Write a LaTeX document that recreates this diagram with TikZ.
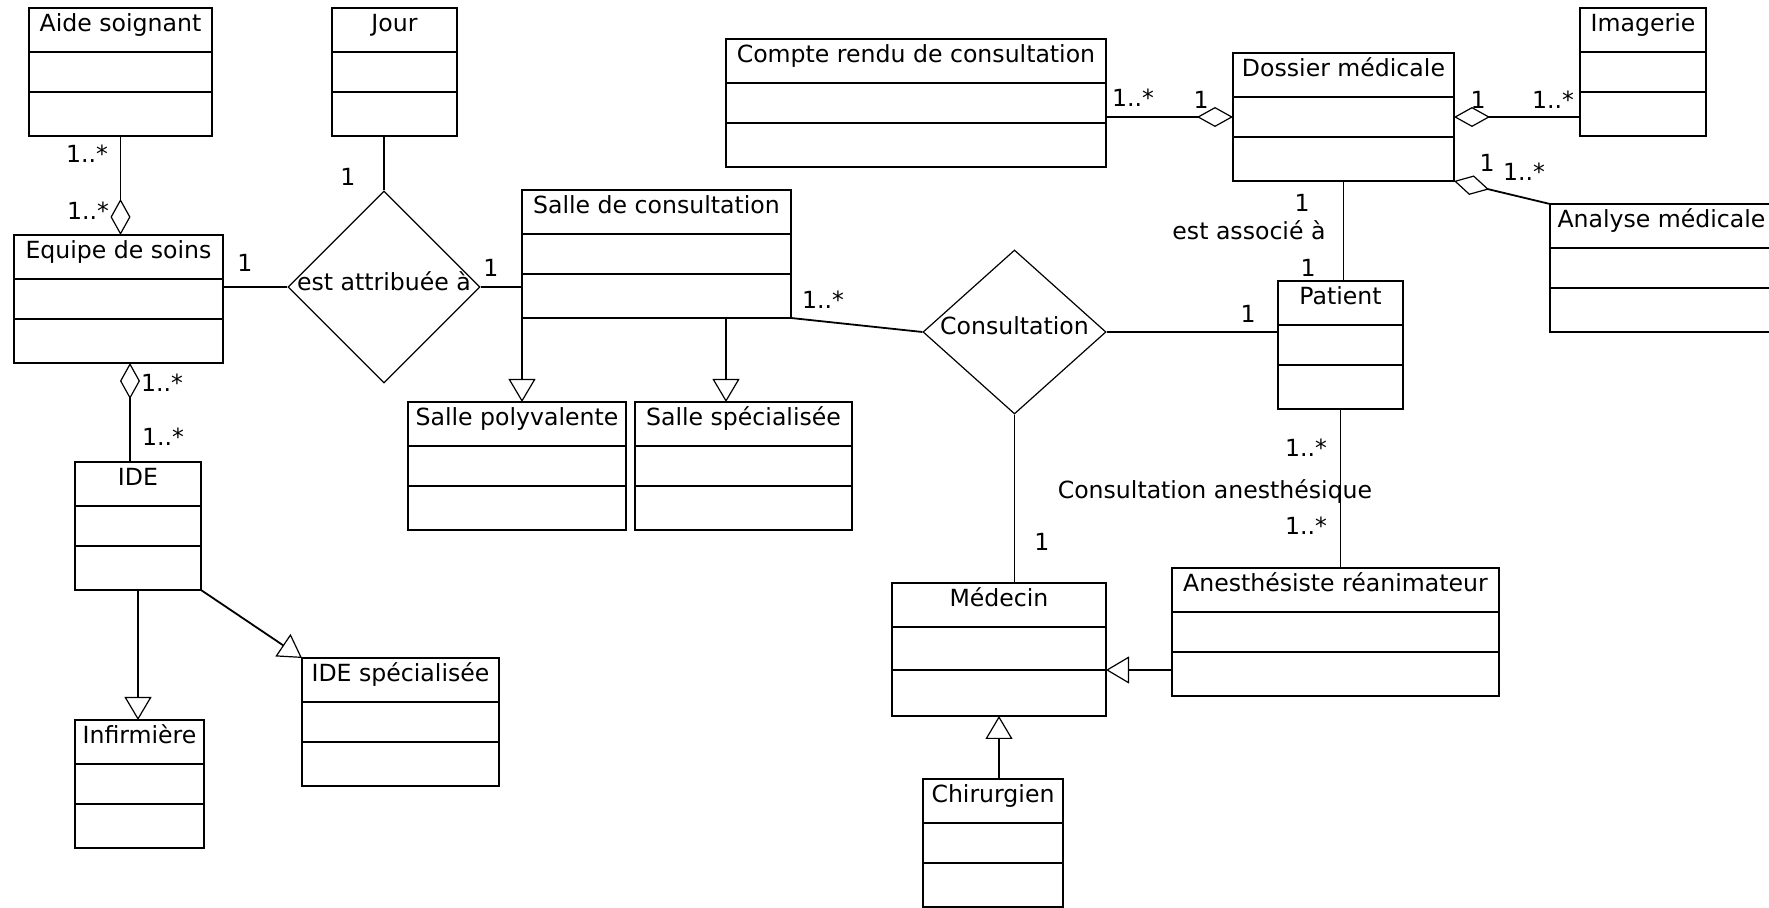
\documentclass[tikz,border=0pt]{standalone}
\usepackage{fontspec}
\setmainfont{DejaVu Sans}
\usetikzlibrary{positioning,shapes.geometric,arrows.meta}

\begin{document}
\begin{tikzpicture}[x=0.5pt, y=-0.5pt,
                    font=\fontsize{11.8pt}{14pt}\selectfont,
                    classname/.style={rectangle, draw=black, line width=1pt, minimum width=#1, minimum height=22pt, inner sep=0pt, outer sep=0pt, text height=12pt, text depth=10pt, anchor=north west},
                    compart/.style={rectangle, draw=black, line width=1pt, minimum width=#1, minimum height=20pt, inner sep=0pt, outer sep=0pt},
                    compartop/.style={compart=#1, minimum height=22pt},
                    relation/.style={diamond, draw=black, line width=0.6pt, inner sep=0pt},
                    link/.style={draw=black, line width=0.9pt},
                    aggreg/.style={link, {Diamond[open, length=18pt, width=10pt, line width=0.6pt]}-},
                    inherit/.style={link, {Triangle[open, length=11.5pt, width=13.5pt, line width=0.6pt]}-},
                    mult/.style={inner sep=0pt}
                ]
                    \useasboundingbox (0,0) rectangle (1769,908);
                    \clip (0,0) rectangle (1769,908);
                    % classes
                    \node[classname=91.5pt] (aide) at (29,8) {Aide soignant};
                    \node[compart=91.5pt] (aide-att) [below=0pt of aide] {};
                    \node[compartop=91.5pt] (aide-op) [below=0pt of aide-att] {};
                    \node[classname=62.5pt] (jour) at (332,8) {Jour};
                    \node[compart=62.5pt] (jour-att) [below=0pt of jour] {};
                    \node[compartop=62.5pt] (jour-op) [below=0pt of jour-att] {};
                    \node[classname=104.5pt] (equipe) at (14,235) {Equipe de soins};
                    \node[compart=104.5pt] (equipe-att) [below=0pt of equipe] {};
                    \node[compartop=104.5pt] (equipe-op) [below=0pt of equipe-att] {};
                    \node[classname=63pt] (ide) at (75,462) {IDE};
                    \node[compart=63pt] (ide-att) [below=0pt of ide] {};
                    \node[compartop=63pt] (ide-op) [below=0pt of ide-att] {};
                    \node[classname=64.5pt] (infirm) at (75,720) {Infirmière};
                    \node[compart=64.5pt] (infirm-att) [below=0pt of infirm] {};
                    \node[compartop=64.5pt] (infirm-op) [below=0pt of infirm-att] {};
                    \node[classname=98.5pt] (idespec) at (302,658) {IDE spécialisée};
                    \node[compart=98.5pt] (idespec-att) [below=0pt of idespec] {};
                    \node[compartop=98.5pt] (idespec-op) [below=0pt of idespec-att] {};
                    \node[classname=134.5pt] (salle) at (522,190) {Salle de consultation};
                    \node[compart=134.5pt] (salle-att) [below=0pt of salle] {};
                    \node[compartop=134.5pt] (salle-op) [below=0pt of salle-att] {};
                    \node[classname=109pt] (poly) at (408,402) {Salle polyvalente};
                    \node[compart=109pt] (poly-att) [below=0pt of poly] {};
                    \node[compartop=109pt] (poly-op) [below=0pt of poly-att] {};
                    \node[classname=108.5pt] (spec) at (635,402) {Salle spécialisée};
                    \node[compart=108.5pt] (spec-att) [below=0pt of spec] {};
                    \node[compartop=108.5pt] (spec-op) [below=0pt of spec-att] {};
                    \node[classname=190pt] (compte) at (726,39) {Compte rendu de consultation};
                    \node[compart=190pt] (compte-att) [below=0pt of compte] {};
                    \node[compartop=190pt] (compte-op) [below=0pt of compte-att] {};
                    \node[classname=110.5pt] (dossier) at (1233,53) {Dossier médicale};
                    \node[compart=110.5pt] (dossier-att) [below=0pt of dossier] {};
                    \node[compartop=110.5pt] (dossier-op) [below=0pt of dossier-att] {};
                    \node[classname=63pt] (imagerie) at (1580,8) {Imagerie};
                    \node[compart=63pt] (imagerie-att) [below=0pt of imagerie] {};
                    \node[compartop=63pt] (imagerie-op) [below=0pt of imagerie-att] {};
                    \node[classname=111.5pt] (analyse) at (1550,204) {Analyse médicale};
                    \node[compart=111.5pt] (analyse-att) [below=0pt of analyse] {};
                    \node[compartop=111.5pt] (analyse-op) [below=0pt of analyse-att] {};
                    \node[classname=62.5pt] (patient) at (1278,281) {Patient};
                    \node[compart=62.5pt] (patient-att) [below=0pt of patient] {};
                    \node[compartop=62.5pt] (patient-op) [below=0pt of patient-att] {};
                    \node[classname=107pt] (medecin) at (892,583) {Médecin};
                    \node[compart=107pt, minimum height=21.5pt] (medecin-att) [below=0pt of medecin] {};
                    \node[compartop=107pt, minimum height=23pt] (medecin-op) [below=0pt of medecin-att] {};
                    \node[classname=163.5pt] (anesth) at (1172,568) {Anesthésiste réanimateur};
                    \node[compart=163.5pt] (anesth-att) [below=0pt of anesth] {};
                    \node[compartop=163.5pt] (anesth-op) [below=0pt of anesth-att] {};
                    \node[classname=70pt] (chir) at (923,779) {Chirurgien};
                    \node[compart=70pt] (chir-att) [below=0pt of chir] {};
                    \node[compartop=70pt] (chir-op) [below=0pt of chir-att] {};
                    % relations
                    \node[relation, minimum width=96pt, minimum height=96pt, label={[yshift=3pt]center:est attribuée à}] (attrib) at (384,287) {};
                    \node[relation, minimum width=91.5pt, minimum height=82pt, label={[yshift=3pt]center:Consultation}] (consult) at (1014.5,332) {};
                    % links
                    \draw[aggreg] (aide-op.south |- equipe.north) -- (aide-op.south);
                    \draw[link] (attrib.north) -- (attrib.north |- jour-op.south);
                    \draw[link] (attrib.west) -- (attrib.west -| equipe.east);
                    \draw[link] (attrib.east) -- (attrib.east -| salle.west);
                    \coordinate (eq-ide) at ([xshift=5.75pt]equipe-op.south);
                    \draw[aggreg] (eq-ide) -- (eq-ide |- ide.north);
                    \draw[inherit] (ide-op.south |- infirm.north) -- (ide-op.south);
                    \draw[inherit] (idespec.north west) -- (ide-op.south east);
                    \draw[inherit] (salle-op.south west |- poly.north) -- (salle-op.south west);
                    \coordinate (spec-in) at ([xshift=-8.75pt]spec.north);
                    \draw[inherit] (spec-in) -- (spec-in |- salle-op.south);
                    \draw[link] (salle-op.south east) -- (consult.west);
                    \draw[aggreg] (dossier-att.west) -- (dossier-att.west -| compte.east);
                    \draw[aggreg] (dossier-att.east) -- (dossier-att.east -| imagerie.west);
                    \draw[aggreg] (dossier-op.south east) -- (analyse.north west);
                    \draw[link] (dossier-op.south) -- (dossier-op.south |- patient.north);
                    \draw[link] (consult.east) -- (consult.east -| patient.west);
                    \draw[link] (consult.south) -- (consult.south |- medecin.north);
                    \draw[link] (patient-op.south) -- (patient-op.south |- anesth.north);
                    \draw[inherit] (medecin-att.south east) -- (medecin-att.south east -| anesth.west);
                    \draw[inherit] (medecin-op.south) -- (medecin-op.south |- chir.north);
                    % multiplicities
                    \node[mult] (m-aide) at (87,154) {1..*};
                    \node[mult] (m-equipe-a) at (88,211) {1..*};
                    \node[mult] (m-jour) at (348,177) {1};
                    \node[mult] (m-equipe-j) at (245,263) {1};
                    \node[mult] (m-salle-j) at (491,268) {1};
                    \node[mult] (m-equipe-i) at (162,383) {1..*};
                    \node[mult] (m-ide) at (163,437) {1..*};
                    \node[mult] (m-salle-c) at (823,300) {1..*};
                    \node[mult] (m-compte) at (1133,98) {1..*};
                    \node[mult] (m-dossier-c) at (1201,100) {1};
                    \node[mult] (m-dossier-i) at (1478,100) {1};
                    \node[mult] (m-imagerie) at (1553,100) {1..*};
                    \node[mult] (m-dossier-a) at (1487,163) {1};
                    \node[mult] (m-analyse) at (1524,172) {1..*};
                    \node[mult] (m-dossier-p) at (1302,203) {1};
                    \node[mult] (assoc) at (1249,230) {est associé à};
                    \node[mult] (m-patient-d) at (1308,268) {1};
                    \node[mult] (m-patient-c) at (1248,314) {1};
                    \node[mult] (m-patient-a) at (1306,448) {1..*};
                    \node[mult] (anest) at (1215,492) {Consultation anesthésique};
                    \node[mult] (m-anesth) at (1306,526) {1..*};
                    \node[mult] (m-medecin) at (1042,542) {1};
                \end{tikzpicture}
\end{document}
